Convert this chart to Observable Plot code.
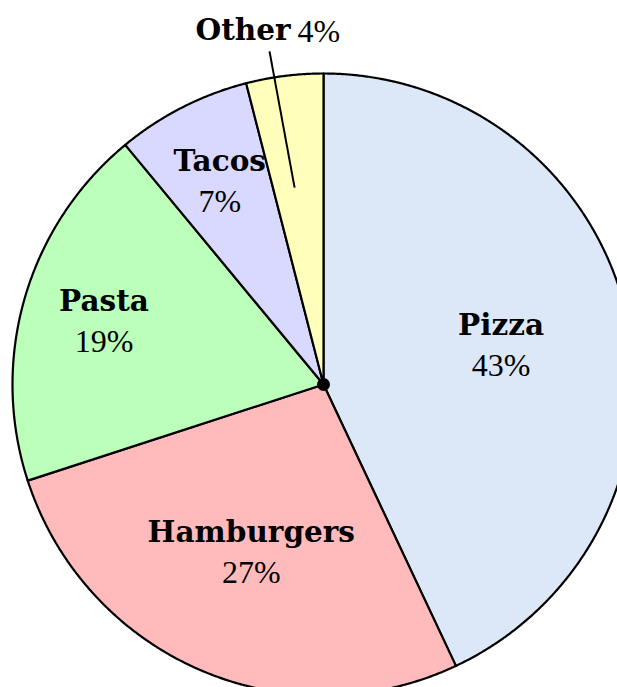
<!DOCTYPE html>
<html><head><meta charset="utf-8">
<script src="https://cdn.jsdelivr.net/npm/d3@7"></script>
<script src="https://cdn.jsdelivr.net/npm/@observablehq/plot@0.6"></script>
<style>body{margin:0;background:#fff}</style>
</head><body><div id="chart"></div>
<script>
const categories = ["Pizza", "Hamburgers", "Pasta", "Tacos", "Other"];
const shares = [43, 27, 19, 7, 4];
const colors = ["#dce8f8", "#ffbbbb", "#bbffbb", "#d9d9ff", "#ffffbb"];

const W = 617, H = 687, cx = 323, cy = 384, R = 311;
const arcs = d3.pie().sort(null).value(d => d)(shares);
const pt = (a, r) => [cx + r * Math.sin(a), cy - r * Math.cos(a)];

const polys = [];
arcs.forEach((p, i) => {
  const n = Math.max(2, Math.ceil((p.endAngle - p.startAngle) / 0.005));
  polys.push({cat: categories[i], x: cx, y: cy});
  for (let j = 0; j <= n; j++) {
    const a = p.startAngle + (p.endAngle - p.startAngle) * j / n;
    const [x, y] = pt(a, R);
    polys.push({cat: categories[i], x, y});
  }
  polys.push({cat: categories[i], x: cx, y: cy});
});

const inside = [], outside = [], leaders = [];
arcs.forEach((p, i) => {
  const mid = (p.startAngle + p.endAngle) / 2;
  const s = shares[i];
  if (s < 5) {
    const a = mid - 0.02;
    const [x, y] = pt(a, R * 1.15);
    outside.push({name: categories[i], pct: s + "%", x, y});
    const [x1, y1] = pt(a - 0.015, R * 1.085);
    const [x2, y2] = pt(a, R * 0.64);
    leaders.push({x1, y1, x2, y2});
  } else {
    const r = s >= 25 ? R * 0.585 : R * 0.735;
    const [x, y] = pt(mid, r);
    inside.push({name: categories[i], pct: s + "%", x, y});
  }
});

const bold = "DejaVu Serif";
const reg = "Liberation Serif";
const chart = Plot.plot({
  width: W, height: H,
  margin: 0,
  x: {domain: [0, W], range: [0, W], axis: null},
  y: {domain: [0, H], range: [0, H], axis: null},
  color: {domain: categories, range: colors},
  style: {fontFamily: bold, background: "#fff"},
  marks: [
    Plot.line(polys, {x: "x", y: "y", z: "cat", fill: "cat", stroke: "black", strokeWidth: 2.2, strokeLinejoin: "round", curve: "linear"}),
    Plot.dot([{x: cx, y: cy}], {x: "x", y: "y", r: 6.5, fill: "black", stroke: "none"}),
    Plot.link(leaders, {x1: "x1", y1: "y1", x2: "x2", y2: "y2", stroke: "black", strokeWidth: 2}),
    Plot.text(inside, {x: "x", y: "y", text: "name", dy: -19, fontSize: 29.5, fontWeight: "bold", fill: "black", fontFamily: bold}),
    Plot.text(inside, {x: "x", y: "y", text: "pct", dy: 21, fontSize: 32, fill: "black", fontFamily: reg}),
    Plot.text(outside, {x: "x", y: "y", text: "name", dx: 19, textAnchor: "end", fontSize: 29.5, fontWeight: "bold", fill: "black", fontFamily: bold}),
    Plot.text(outside, {x: "x", y: "y", text: "pct", dx: 26, dy: 1, textAnchor: "start", fontSize: 32, fill: "black", fontFamily: reg})
  ]
});
document.getElementById("chart").appendChild(chart);
</script>
</body></html>
